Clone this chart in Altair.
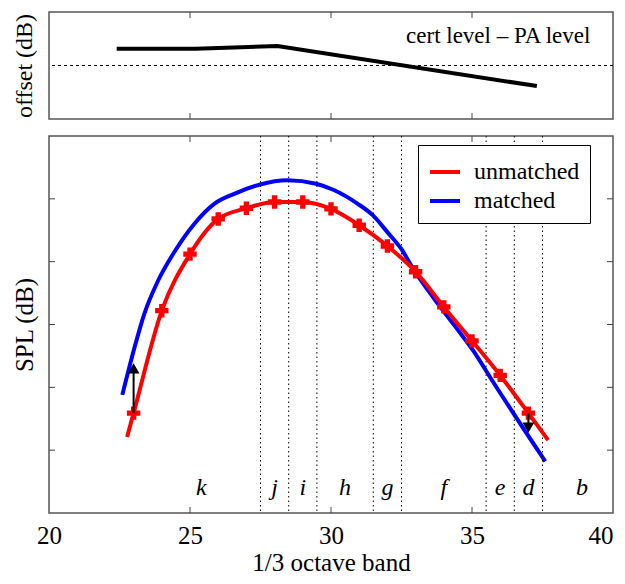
import altair as alt
import pandas as pd

FONT = "Liberation Serif"
W = 564
H_TOP = 107
H_BOT = 377
GAP = 17

# ---------------- data ----------------
off_band = [22.4, 25.2, 28.1, 37.3]
off_value = [0.63, 0.63, 0.73, -0.77]

red_band = [23, 24, 25, 26, 27, 28, 29, 30, 31, 32, 33, 34, 35, 36, 37]
red_spl = [35.9, 52.2, 61.2, 66.8, 68.5, 69.5, 69.5, 68.4, 65.8, 62.5, 58.4, 52.8, 47.4, 41.9, 35.9]
red_start = [22.77, 32.1]
red_end = [37.7, 31.6]

blue_band = [22.6, 23.03, 23.38, 23.85, 24.44, 25.15, 25.86, 26.57, 27.46, 28.46,
             29.47, 30.1, 30.95, 31.48, 32.0, 32.48, 32.95, 33.66, 34.37, 35.08, 35.67, 37.6]
blue_spl = [38.8, 46.3, 51.7, 56.8, 61.5, 66.0, 69.2, 70.8, 72.25, 72.95,
            72.4, 71.4, 69.2, 67.4, 64.7, 62.1, 58.6, 54.1, 49.9, 45.6, 41.4, 28.2]

arrow_band = [23, 37]
arrow_from = [35.9, 35.9]
arrow_to = [43.0, 33.6]
arrow_shape = ["triangle-up", "triangle-down"]

boundaries = [27.5, 28.5, 29.5, 31.5, 32.5, 35.5, 36.5, 37.5]
letters = ["k", "j", "i", "h", "g", "f", "e", "d", "b"]
letter_band = [25.4, 28.0, 29.0, 30.5, 32.0, 34.0, 36.0, 37.0, 38.9]
letter_level = 24

x_ticks = [25, 30, 35]
x_labels = [20, 25, 30, 35, 40]
y_ticks = [30, 40, 50, 60, 70]

series_names = ["unmatched", "matched"]
series_colors = ["#ff0000", "#0000ff"]

# ---------------- scales ----------------
xscale = alt.Scale(domain=[20, 40], nice=False, zero=False)
ybot = alt.Scale(domain=[20, 80], nice=False, zero=False)
ytop = alt.Scale(domain=[-2, 2], nice=False, zero=False)
TICK = "#444444"

# ---------------- top panel ----------------
top_df = pd.DataFrame({"band": off_band, "offset": off_value})
top_line = alt.Chart(top_df).mark_line(color="black", strokeWidth=4).encode(
    x=alt.X("band:Q", scale=xscale, axis=None),
    y=alt.Y("offset:Q", scale=ytop, title="offset (dB)",
            axis=alt.Axis(labels=False, ticks=False, domain=False,
                          grid=False, titleFont=FONT, titleFontSize=24,
                          titleFontWeight="normal", titleColor="black", titlePadding=13)),
)
zero_rule = alt.Chart(pd.DataFrame({"z": [0]})).mark_rule(
    color="black", strokeWidth=1, strokeDash=[3, 3]
).encode(y=alt.Y("z:Q", scale=ytop))
top_text = alt.Chart(pd.DataFrame({"band": [39.2], "offset": [1.1],
                                   "label": ["cert level \u2013 PA level"]})).mark_text(
    align="right", baseline="middle", font=FONT, fontSize=23, color="black"
).encode(x=alt.X("band:Q", scale=xscale),
         y=alt.Y("offset:Q", scale=ytop), text="label:N")

tick_df = pd.DataFrame({"t": x_ticks})
top_xt1 = alt.Chart(tick_df).mark_rule(color=TICK, strokeWidth=1).encode(
    x=alt.X("t:Q", scale=xscale), y=alt.value(0), y2=alt.value(6))
top_xt2 = alt.Chart(tick_df).mark_rule(color=TICK, strokeWidth=1).encode(
    x=alt.X("t:Q", scale=xscale), y=alt.value(H_TOP - 6), y2=alt.value(H_TOP))

top = alt.layer(top_line, zero_rule, top_text, top_xt1, top_xt2).properties(
    width=W, height=H_TOP)

# ---------------- bottom panel ----------------
color = alt.Color("series:N",
                  scale=alt.Scale(domain=series_names, range=series_colors),
                  legend=alt.Legend(orient="none", legendX=369, legendY=H_TOP + GAP + 9,
                                    title=None,
                                    symbolType="stroke", symbolStrokeWidth=4, symbolSize=900,
                                    labelFont=FONT, labelFontSize=24, labelColor="black",
                                    strokeColor="black", fillColor="white", padding=10,
                                    rowPadding=0, labelOffset=12))

x_axis = alt.Axis(values=x_labels, ticks=False, domain=False, grid=False,
                  labelFont=FONT, labelFontSize=25, labelColor="black", labelFlush=False,
                  labelAlign={"expr": "datum.value == 40 ? 'right' : 'center'"},
                  labelOverlap=False, labelPadding=10, titleFont=FONT, titleFontSize=25,
                  titleFontWeight="normal", titleColor="black", titlePadding=2)
y_axis = alt.Axis(labels=False, ticks=False, domain=False, grid=False,
                  titleFont=FONT, titleFontSize=25, titleFontWeight="normal",
                  titleColor="black", titlePadding=12)

blue_df = pd.DataFrame({"band": blue_band, "spl": blue_spl, "series": "matched"})
red_df = pd.DataFrame({"band": [red_start[0]] + red_band + [red_end[0]],
                       "spl": [red_start[1]] + red_spl + [red_end[1]],
                       "series": "unmatched"})
mark_df = pd.DataFrame({"band": red_band, "spl": red_spl})

blue_line = alt.Chart(blue_df).mark_line(strokeWidth=4, interpolate="monotone").encode(
    x=alt.X("band:Q", scale=xscale, axis=x_axis, title="1/3 octave band"),
    y=alt.Y("spl:Q", scale=ybot, axis=y_axis, title="SPL (dB)"),
    color=color,
)

bnd = alt.Chart(pd.DataFrame({"b": boundaries})).mark_rule(
    color="black", strokeWidth=1, strokeDash=[1.5, 3]
).encode(x=alt.X("b:Q", scale=xscale))

red_line = alt.Chart(red_df).mark_line(strokeWidth=4, interpolate="monotone").encode(
    x=alt.X("band:Q", scale=xscale),
    y=alt.Y("spl:Q", scale=ybot),
    color=color,
)
red_marks = alt.Chart(mark_df).mark_point(shape="cross", filled=True, size=180,
                                          color="#ff0000", opacity=1).encode(
    x=alt.X("band:Q", scale=xscale),
    y=alt.Y("spl:Q", scale=ybot),
)

arrow_df = pd.DataFrame({"band": arrow_band, "y0": arrow_from, "y1": arrow_to, "shape": arrow_shape})
arrow_shaft = alt.Chart(arrow_df).mark_rule(color="black", strokeWidth=2).encode(
    x=alt.X("band:Q", scale=xscale),
    y=alt.Y("y0:Q", scale=ybot), y2="y1:Q")
arrow_head = alt.Chart(arrow_df).mark_point(filled=True, color="black", size=140, opacity=1).encode(
    x=alt.X("band:Q", scale=xscale),
    y=alt.Y("y1:Q", scale=ybot),
    shape=alt.Shape("shape:N", scale=None))

letter_df = pd.DataFrame({"band": letter_band, "lvl": letter_level, "txt": letters})
letter_text = alt.Chart(letter_df).mark_text(font=FONT, fontStyle="italic", fontSize=24,
                                             color="black", baseline="middle").encode(
    x=alt.X("band:Q", scale=xscale),
    y=alt.Y("lvl:Q", scale=ybot), text="txt:N")

ytick_df = pd.DataFrame({"t": y_ticks})
bt_l = alt.Chart(ytick_df).mark_rule(color=TICK, strokeWidth=1).encode(
    y=alt.Y("t:Q", scale=ybot), x=alt.value(0), x2=alt.value(6))
bt_r = alt.Chart(ytick_df).mark_rule(color=TICK, strokeWidth=1).encode(
    y=alt.Y("t:Q", scale=ybot), x=alt.value(W - 6), x2=alt.value(W))
bt_t = alt.Chart(tick_df).mark_rule(color=TICK, strokeWidth=1).encode(
    x=alt.X("t:Q", scale=xscale), y=alt.value(0), y2=alt.value(6))
bt_b = alt.Chart(tick_df).mark_rule(color=TICK, strokeWidth=1).encode(
    x=alt.X("t:Q", scale=xscale), y=alt.value(H_BOT - 6), y2=alt.value(H_BOT))

bottom = alt.layer(blue_line, bnd, bt_l, bt_r, bt_t, bt_b, letter_text, red_line,
                   red_marks, arrow_shaft, arrow_head).properties(width=W, height=H_BOT)

chart = alt.vconcat(top, bottom, spacing=GAP, bounds="flush").properties(
    padding={"left": 3, "top": 2, "right": 0, "bottom": 0}
).configure_view(stroke="#555555", strokeWidth=1.5)

chart.save("out.html", embed_options={"renderer": "svg", "actions": False})
